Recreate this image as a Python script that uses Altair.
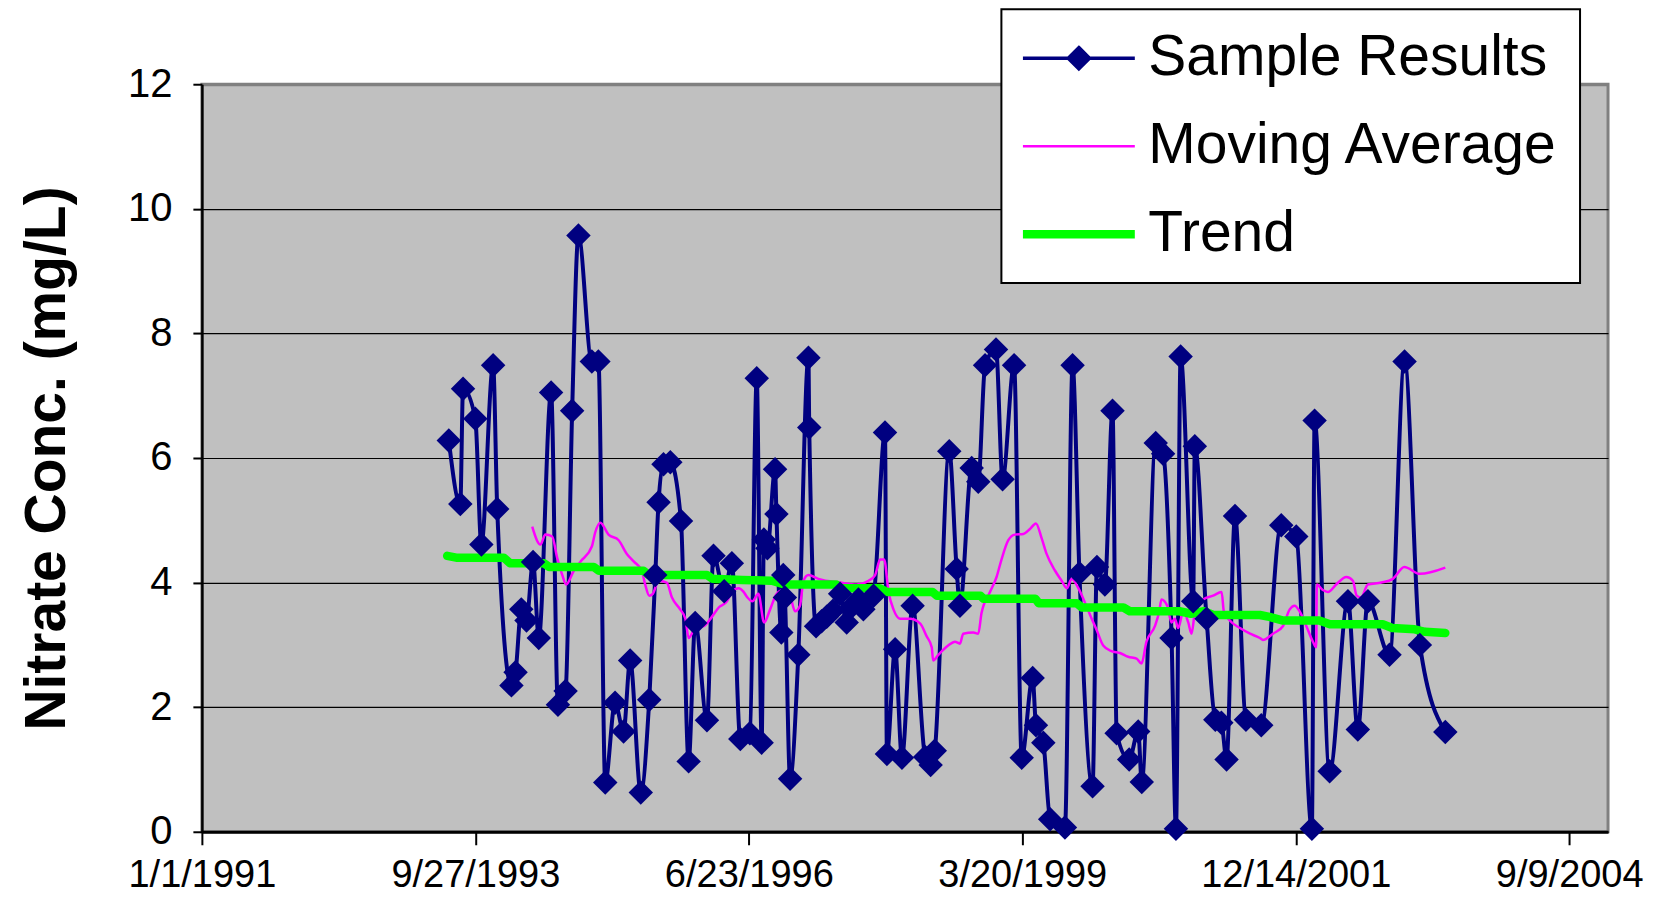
import altair as alt
import pandas as pd

ORIGIN = pd.Timestamp("1991-01-01")

# --- sample results: days after 1/1/1991 and nitrate (mg/L) ---
sample_days = [903, 945, 955, 1000, 1022, 1065, 1080, 1132, 1147, 1168,
               1187, 1211, 1232, 1277, 1302, 1330, 1354, 1377, 1426, 1450,
               1475, 1511, 1542, 1566, 1605, 1636, 1658, 1670, 1688, 1713,
               1752, 1780, 1804, 1847, 1871, 1910, 1938, 1969, 2004, 2029,
               2047, 2055, 2068, 2096, 2101, 2119, 2126, 2132, 2151, 2181,
               2218, 2221, 2246, 2266, 2285, 2308, 2334, 2358, 2378, 2401,
               2419, 2456, 2498, 2505, 2535, 2560, 2599, 2645, 2665, 2680,
               2733, 2760, 2772, 2815, 2839, 2864, 2904, 2928, 2970, 2998,
               3038, 3050, 3077, 3102, 3156, 3184, 3209, 3257, 3273, 3302,
               3330, 3345, 3391, 3424, 3437, 3488, 3515, 3546, 3562, 3579,
               3625, 3631, 3674, 3706, 3728, 3747, 3778, 3818, 3874, 3947,
               4002, 4059, 4069, 4124, 4191, 4227, 4264, 4343, 4398, 4454,
               4547]
sample_values = [6.28, 5.26, 7.11, 6.63, 4.61, 7.49, 5.18, 2.35, 2.56, 3.57,
                 3.39, 4.33, 3.11, 7.05, 2.04, 2.26, 6.76, 9.57, 7.55, 7.55,
                 0.79, 2.07, 1.61, 2.75, 0.63, 2.12, 4.12, 5.29, 5.9, 5.93,
                 4.99, 1.13, 3.35, 1.79, 4.43, 3.86, 4.31, 1.49, 1.58, 7.28,
                 1.43, 4.69, 4.55, 5.82, 5.1, 3.2, 4.12, 3.76, 0.85, 2.84,
                 7.61, 6.49, 3.3, 3.38, 3.45, 3.55, 3.82, 3.36, 3.62, 3.73,
                 3.57, 3.79, 6.41, 1.25, 2.93, 1.19, 3.63, 1.2, 1.07, 1.3,
                 6.11, 4.22, 3.63, 5.84, 5.62, 7.49, 7.74, 5.66, 7.49, 1.19,
                 2.47, 1.71, 1.43, 0.2, 0.07, 7.49, 4.15, 0.73, 4.25, 3.97,
                 6.76, 1.58, 1.16, 1.61, 0.8, 6.24, 6.07, 3.11, 0.05, 7.63,
                 3.7, 6.19, 3.42, 1.8, 1.75, 1.16, 5.07, 1.8, 1.71, 4.92,
                 4.74, 0.05, 6.6, 0.97, 3.7, 1.64, 3.7, 2.84, 7.55, 3.0,
                 1.6]

# --- moving average ---
ma_days = [1208, 1238, 1256, 1281, 1299, 1318, 1332, 1360, 1385, 1426,
           1438, 1457, 1487, 1524, 1554, 1579, 1609, 1621, 1636, 1649,
           1670, 1700, 1719, 1749, 1768, 1780, 1804, 1835, 1865, 1890,
           1920, 1938, 1963, 1981, 1995, 2013, 2035, 2056, 2078, 2102,
           2127, 2151, 2169, 2187, 2200, 2218, 2254, 2334, 2395, 2438,
           2462, 2480, 2495, 2511, 2529, 2553, 2590, 2627, 2650, 2669,
           2674, 2693, 2729, 2754, 2772, 2784, 2821, 2839, 2851, 2882,
           2906, 2924, 2949, 2973, 3004, 3028, 3050, 3071, 3089, 3120,
           3144, 3163, 3181, 3205, 3230, 3248, 3272, 3296, 3326, 3357,
           3387, 3418, 3436, 3454, 3485, 3501, 3509, 3530, 3546, 3558,
           3570, 3589, 3607, 3619, 3631, 3662, 3698, 3729, 3737, 3759,
           3796, 3833, 3869, 3880, 3917, 3953, 3978, 3996, 4014, 4039,
           4063, 4075, 4077, 4099, 4118, 4148, 4185, 4209, 4223, 4239,
           4264, 4313, 4355, 4397, 4454, 4547]
ma_values = [4.9, 4.61, 4.77, 4.74, 4.4, 4.12, 3.97, 4.19, 4.34, 4.58,
             4.8, 4.96, 4.77, 4.68, 4.46, 4.34, 4.19, 3.97, 3.79, 3.82,
             4.03, 4.0, 3.76, 3.57, 3.42, 3.11, 3.27, 3.3, 3.45, 3.6,
             3.7, 3.85, 3.91, 3.85, 3.76, 3.7, 3.82, 3.36, 3.57, 3.82,
             3.88, 3.79, 3.54, 3.63, 4.03, 4.12, 4.06, 4.0, 3.97, 4.03,
             4.12, 4.37, 4.37, 3.85, 3.57, 3.42, 3.42, 3.34, 3.14, 2.96,
             2.75, 2.84, 2.99, 3.05, 3.02, 3.18, 3.2, 3.18, 3.51, 3.85,
             4.09, 4.37, 4.68, 4.77, 4.78, 4.86, 4.95, 4.71, 4.46, 4.19,
             4.03, 3.91, 4.06, 3.91, 3.67, 3.48, 3.24, 2.99, 2.9, 2.87,
             2.81, 2.78, 2.7, 3.05, 3.3, 3.54, 3.73, 3.63, 3.36, 3.42,
             3.27, 3.54, 3.36, 3.18, 3.51, 3.73, 3.79, 3.85, 3.54, 3.39,
             3.27, 3.18, 3.11, 3.08, 3.18, 3.3, 3.57, 3.63, 3.54, 3.3,
             3.05, 2.96, 3.97, 3.88, 3.85, 3.97, 4.09, 4.03, 3.79, 3.76,
             3.97, 4.0, 4.06, 4.25, 4.14, 4.24]

# --- trend ---
trend_days = [897, 930, 1104, 1127, 1251, 1270, 1433, 1452, 1615, 1634,
              1847, 1867, 1975, 2084, 2130, 2320, 2335, 2479, 2506, 2672,
              2688, 2847, 2858, 3048, 3060, 3199, 3218, 3370, 3393, 3575,
              3617, 3664, 3699, 3869, 3904, 3954, 4086, 4125, 4318, 4353,
              4435, 4473, 4547]
trend_values = [4.43, 4.40, 4.40, 4.31, 4.31, 4.25, 4.25, 4.19, 4.19, 4.12,
                4.12, 4.06, 4.04, 4.03, 3.97, 3.97, 3.91, 3.91, 3.85, 3.85,
                3.79, 3.79, 3.74, 3.74, 3.67, 3.67, 3.60, 3.60, 3.54, 3.54,
                3.50, 3.54, 3.48, 3.48, 3.45, 3.39, 3.39, 3.33, 3.33, 3.27,
                3.25, 3.21, 3.19]

tick_dates = ["1991-01-01", "1993-09-27", "1996-06-23", "1999-03-20",
              "2001-12-14", "2004-09-09"]
x_end = "2005-01-29"
y_ticks = [0, 2, 4, 6, 8, 10, 12]
series_names = ["Sample Results", "Moving Average", "Trend"]
series_colors = ["#000080", "#FF00FF", "#00FF00"]
y_title = "Nitrate Conc. (mg/L)"

FONT = "Liberation Sans"


def to_dates(days):
    return [(ORIGIN + pd.Timedelta(days=d)).strftime("%Y-%m-%d") for d in days]


def frame(days, values, name):
    return pd.DataFrame({"date": to_dates(days), "value": values, "series": name})


samples = frame(sample_days, sample_values, series_names[0])
moving = frame(ma_days, ma_values, series_names[1])
trend = frame(trend_days, trend_values, series_names[2])


def dt(s):
    t = pd.Timestamp(s)
    return alt.DateTime(year=t.year, month=t.month, date=t.day, utc=True)


x_scale = alt.Scale(type="utc", domain=[dt(tick_dates[0]), dt(x_end)])
y_scale = alt.Scale(domain=[0, 12], nice=False, zero=False)
color_scale = alt.Scale(domain=series_names, range=series_colors)

x_axis = alt.Axis(values=[dt(s) for s in tick_dates],
                  labelExpr="utcFormat(datum.value, '%-m/%-d/%Y')",
                  grid=False, tickSize=13, tickColor="black",
                  tickWidth=2, domainColor="black", domainWidth=3,
                  labelFont=FONT, labelFontSize=38, labelColor="black",
                  labelPadding=12, labelFlush=False, labelOverlap=False,
                  labelLimit=500, title=None)
y_axis = alt.Axis(values=y_ticks, grid=True,
                  gridColor={"condition": {"test": "datum.value === 12", "value": "#808080"},
                             "value": "black"},
                  gridWidth={"condition": {"test": "datum.value === 12", "value": 3},
                             "value": 1.2},
                  tickSize=9, tickColor="black", tickWidth=2,
                  domainColor="black", domainWidth=2.5,
                  labelFont=FONT, labelFontSize=40, labelColor="black",
                  labelPadding=21,
                  title=y_title, titleFont=FONT, titleFontSize=57,
                  titleFontWeight="bold", titleColor="black",
                  titleX=-137, titleY=374, titleBaseline="alphabetic")

legend = alt.Legend(
    title=None, orient="none", legendX=800, legendY=-75, direction="vertical",
    fillColor="white", strokeColor="black", padding=21,
    labelFont=FONT, labelFontSize=57, labelColor="black", labelLimit=700,
    labelOffset=41, clipHeight=56, rowPadding=31, symbolSize=12544,
    symbolOffset=28, symbolOpacity=1,
    symbolType={"expr": "datum.value === 'Sample Results' ? "
                        "'M-1,0H1M0,-0.19L0.19,0L0,0.19L-0.19,0Z' : 'M-1,0H1'"},
    symbolFillColor={"expr": "datum.value === 'Sample Results' ? '#000080' : 'transparent'"},
    symbolStrokeWidth={"expr": "datum.value === 'Trend' ? 8.5 : "
                               "(datum.value === 'Moving Average' ? 2.5 : 3.5)"},
)

X = alt.X("date:T", scale=x_scale, axis=x_axis)
Y = alt.Y("value:Q", scale=y_scale, axis=y_axis)
C = alt.Color("series:N", scale=color_scale, legend=legend)

sample_line = alt.Chart(samples).mark_line(
    strokeWidth=4, strokeJoin="round", interpolate="monotone").encode(x=X, y=Y, color=C)
ma_line = alt.Chart(moving).mark_line(
    strokeWidth=2.5, strokeJoin="round", interpolate="monotone").encode(x=X, y=Y, color=C)
trend_line = alt.Chart(trend).mark_line(
    strokeWidth=8.5, strokeJoin="round", strokeCap="round").encode(x=X, y=Y, color=C)
points = alt.Chart(samples).mark_point(
    shape="diamond", filled=True, size=600, opacity=1,
    color="#000080").encode(x=X, y=Y)

chart = alt.layer(sample_line, ma_line, trend_line, points).properties(
    width=1407, height=748,
    padding={"left": 194, "top": 76, "right": 46, "bottom": 66},
    autosize=alt.AutoSizeParams(type="none"),
    background="white",
).configure_view(
    fill="#C0C0C0", stroke="#808080", strokeWidth=3
).configure_legend(strokeWidth=2)

chart.save("out.html", embed_options={"renderer": "svg", "actions": False})
